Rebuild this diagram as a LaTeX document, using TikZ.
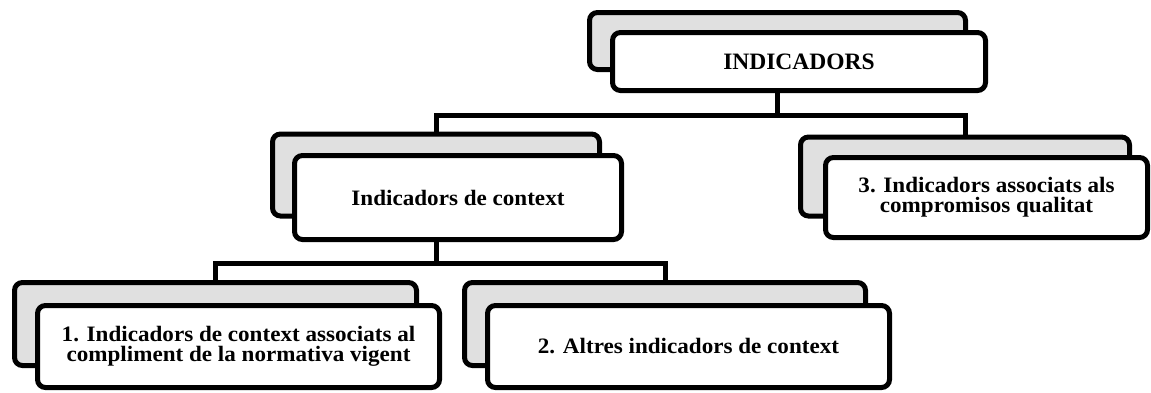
\documentclass[tikz,border=0pt]{standalone}
\usepackage{fontspec}
\setmainfont{Liberation Serif}[FakeStretch=1.05]
\newfontfamily\titlefont{Liberation Serif}
\definecolor{backgray}{RGB}{224,224,224}
\tikzset{
  x=1pt, y=-1pt,
  backbox/.style={draw=black, line width=5pt, rounded corners=8pt, fill=backgray, inner sep=0pt},
  frontbox/.style={draw=black, line width=5pt, rounded corners=8pt, fill=white, inner sep=0pt, align=center,
    font=\bfseries\fontsize{22}{20}\selectfont},
  conn/.style={draw=black, line width=5pt},
}
\begin{document}
\begin{tikzpicture}
\useasboundingbox (0,0) rectangle (1151,392);
% bus coordinates
\coordinate (bus1) at (777.5,115);
\coordinate (bus2) at (436,263);
% back boxes
\node[backbox, minimum width=376pt, minimum height=57pt] (topG) at (777.5,41) {};
\node[backbox, minimum width=327pt, minimum height=82pt] (midG) at (436,175) {};
\node[backbox, minimum width=329pt, minimum height=79pt] (rightG) at (965,176.5) {};
\node[backbox, minimum width=402pt, minimum height=83pt] (blG) at (215.5,324) {};
\node[backbox, minimum width=401pt, minimum height=83pt] (brG) at (665,324) {};
% connectors
\draw[conn] (topG.center |- 0,88) -- (bus1);
\draw[conn] (midG.north) |- (bus1);
\draw[conn] (rightG.north) |- (bus1);
\draw[conn] (midG.center |- 0,238) -- (bus2);
\draw[conn] (blG.north) |- (bus2);
\draw[conn] (brG.north) |- (bus2);
% front boxes
\node[frontbox, minimum width=373pt, minimum height=58pt, font=\titlefont\bfseries\fontsize{23.5}{24}\selectfont] (topW) at (799,61.5) {INDICADORS};
\node[frontbox, minimum width=327pt, minimum height=84pt] (midW) at (458,197.5) {Indicadors de context};
\node[frontbox, minimum width=322pt, minimum height=80pt] (rightW) at (986.5,197.5) {3. Indicadors associats als\\compromisos qualitat};
\node[frontbox, minimum width=402pt, minimum height=82pt] (blW) at (238.5,346.5) {1. Indicadors de context associats al\\compliment de la normativa vigent};
\node[frontbox, minimum width=402pt, minimum height=82pt] (brW) at (688.5,346.5) {2. Altres indicadors de context};
\end{tikzpicture}
\end{document}
